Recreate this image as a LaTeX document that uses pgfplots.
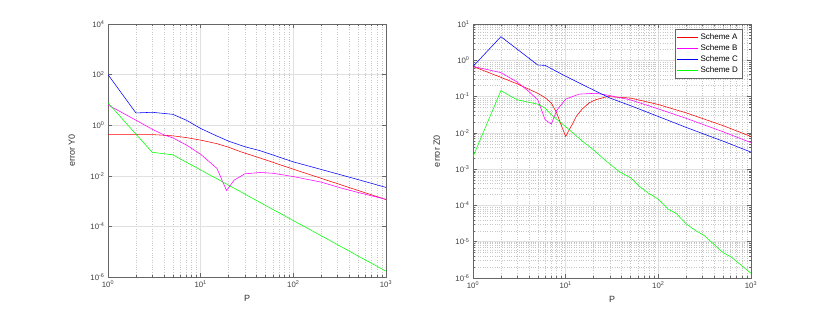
\documentclass[border=0pt]{standalone}
\usepackage{fontspec}
\setmainfont{Liberation Sans}
\usepackage{pgfplots}
\pgfplotsset{compat=1.18}
\definecolor{cA}{rgb}{1,0,0}
\definecolor{cB}{rgb}{1,0,1}
\definecolor{cC}{rgb}{0,0,1}
\definecolor{cD}{rgb}{0,1,0}
\begin{document}
\begin{tikzpicture}
\path[use as bounding box] (0pt,0pt) rectangle (830pt,312pt);
% ---------- left ----------
\begin{axis}[at={(108pt,35pt)}, anchor=south west,
    scale only axis, width=278pt, height=253pt,
    xmode=log, ymode=log, xmin=1, xmax=1000,
    axis line style={black!60, line width=0.6pt},
    tick style={black!60, line width=0.5pt},
    tick align=inside,
    major tick length=4pt, minor tick length=2pt,
    major grid style={black!12, line width=0.5pt},
    minor grid style={black!22, dotted, line width=0.4pt},
    xmajorgrids, xminorgrids, ymajorgrids,
    xtick={1,10,100,1000},
    xticklabels={10\textsuperscript{0},10\textsuperscript{1},10\textsuperscript{2},10\textsuperscript{3}},
    tick label style={font=\fontsize{7.8}{8}\selectfont, text=black!75},
    label style={font=\fontsize{9}{10}\selectfont, text=black!80},
    xlabel={P},
    xlabel style={at={(axis description cs:0.5,-0.085)}, anchor=center},
    ylabel style={at={(axis description cs:-0.13,0.5)}, anchor=center},
  ymin=1e-6, ymax=1e4,
  ytick={1e-6,1e-4,1e-2,1,1e2,1e4},
  yticklabels={10\textsuperscript{-6},10\textsuperscript{-4},10\textsuperscript{-2},10\textsuperscript{0},10\textsuperscript{2},10\textsuperscript{4}},
  yminorticks=false,
  ylabel={error Y0}]
\addplot[cA, line width=0.55pt] coordinates {(1,0.427) (3,0.427) (5,0.380) (7,0.324) (10,0.257) (15,0.186) (20,0.135) (27,0.0891) (44,0.0501) (100,0.0182) (200,0.00794) (500,0.00263) (1000,0.00115)};
\addplot[cB, line width=0.55pt] coordinates {(1,6.31) (2,1.58) (3,0.692) (4,0.417) (5,0.316) (7,0.166) (10,0.0708) (15,0.0195) (19,0.00263) (23,0.00676) (30,0.0120) (44,0.0135) (60,0.0126) (100,0.00933) (200,0.00562) (325,0.00331) (500,0.00219) (1000,0.00117)};
\addplot[cC, line width=0.55pt] coordinates {(1,100) (2,3.05) (3,3.24) (5,2.69) (7,1.58) (10,0.741) (15,0.372) (20,0.234) (30,0.141) (44,0.0977) (100,0.0355) (200,0.0178) (500,0.00708) (1000,0.00347)};
\addplot[cD, line width=0.55pt] coordinates {(1,7.59) (2,0.447) (3,0.0851) (5,0.0676) (10,0.0170) (20,0.00427) (50,6.76e-4) (100,1.70e-4) (200,4.27e-5) (500,6.76e-6) (1000,1.70e-6)};
\end{axis}
% ---------- right ----------
\begin{axis}[at={(473pt,34pt)}, anchor=south west,
    scale only axis, width=278pt, height=254pt,
    xmode=log, ymode=log, xmin=1, xmax=1000,
    axis line style={black!60, line width=0.6pt},
    tick style={black!60, line width=0.5pt},
    tick align=inside,
    major tick length=4pt, minor tick length=2pt,
    major grid style={black!12, line width=0.5pt},
    minor grid style={black!22, dotted, line width=0.4pt},
    xmajorgrids, xminorgrids, ymajorgrids, yminorgrids,
    xtick={1,10,100,1000},
    xticklabels={10\textsuperscript{0},10\textsuperscript{1},10\textsuperscript{2},10\textsuperscript{3}},
    tick label style={font=\fontsize{7.8}{8}\selectfont, text=black!75},
    label style={font=\fontsize{9}{10}\selectfont, text=black!80},
    xlabel={P},
    xlabel style={at={(axis description cs:0.5,-0.085)}, anchor=center},
    ylabel style={at={(axis description cs:-0.13,0.5)}, anchor=center},
  ymin=1e-6, ymax=10,
  ytick={1e-6,1e-5,1e-4,1e-3,1e-2,1e-1,1,10},
  yticklabels={10\textsuperscript{-6},10\textsuperscript{-5},10\textsuperscript{-4},10\textsuperscript{-3},10\textsuperscript{-2},10\textsuperscript{-1},10\textsuperscript{0},10\textsuperscript{1}},
  ylabel={error Z0},
  legend style={at={(0.968,0.98)}, anchor=north east, draw=black!60, fill=white,
    font=\fontsize{8}{9}\selectfont, inner sep=2pt, row sep=0pt, cells={anchor=west}},
  legend image code/.code={\draw[mark repeat=2,mark phase=2,#1,line width=0.7pt] plot coordinates {(0pt,0pt) (10.5pt,0pt) (21pt,0pt)};}]
\addplot[cA, line width=0.55pt] coordinates {(1,0.676) (2,0.339) (3,0.224) (5,0.123) (6,0.0933) (7,0.0661) (8,0.0355) (9,0.0158) (10,0.00794) (11,0.0126) (12,0.0186) (13,0.0282) (15,0.0447) (18,0.0676) (21,0.0813) (28,0.1) (50,0.0912) (100,0.0603) (200,0.0355) (500,0.0158) (1000,0.00794)};
\addplot[cB, line width=0.55pt] coordinates {(1,0.676) (2,0.457) (3,0.251) (4,0.138) (5,0.0813) (6,0.0229) (7,0.0174) (8,0.0417) (10,0.0851) (14,0.117) (21,0.123) (28,0.110) (50,0.0813) (100,0.0457) (200,0.0251) (500,0.0107) (1000,0.00537)};
\addplot[cC, line width=0.55pt] coordinates {(1,0.676) (2,4.47) (3,2.02) (5,0.741) (6,0.724) (10,0.363) (20,0.151) (30,0.0912) (50,0.0562) (100,0.0282) (200,0.0141) (500,0.00589) (1000,0.00295)};
\addplot[cD, line width=0.55pt] coordinates {(1,0.00219) (2,0.145) (3,0.0813) (5,0.0617) (6,0.0479) (7,0.0316) (10,0.0148) (15,0.00603) (20,0.00339) (26,0.00186) (38,8.51e-4) (51,5.62e-4) (63,3.31e-4) (78,2.19e-4) (100,1.48e-4) (128,7.94e-5) (157,5.89e-5) (200,3.09e-5) (245,2.14e-5) (316,1.45e-5) (405,8.13e-6) (500,5.01e-6) (617,3.72e-6) (1000,1.35e-6)};
\legend{Scheme A, Scheme B, Scheme C, Scheme D}
\end{axis}
\end{tikzpicture}
\end{document}
